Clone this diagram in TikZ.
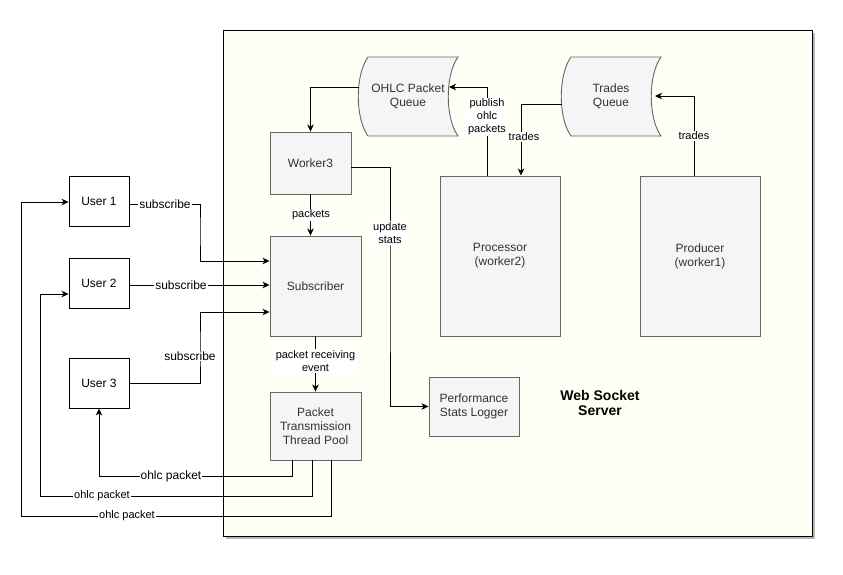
\documentclass[tikz,border=0pt]{standalone}
\usepackage{fontspec}
\setmainfont{Liberation Sans}
\usetikzlibrary{arrows.meta,calc}
\definecolor{servfill}{HTML}{FFFFF5}
\definecolor{servshadow}{HTML}{B8B8B8}
\definecolor{boxfill}{HTML}{F5F5F5}
\definecolor{boxline}{HTML}{666666}
\definecolor{boxtext}{HTML}{333333}
\begin{document}
\begin{tikzpicture}[x=1pt,y=-1pt,
  graybox/.style={draw=boxline,fill=boxfill,text=boxtext,line width=0.9pt,inner sep=0pt,align=center,font=\fontsize{12}{14}\selectfont},
  userbox/.style={draw=black,fill=white,line width=0.9pt,minimum width=60pt,minimum height=50pt,inner sep=0pt,font=\fontsize{12}{14}\selectfont},
  qtext/.style={text=boxtext,align=center,inner sep=0pt,minimum width=100pt,minimum height=79pt,font=\fontsize{12}{14}\selectfont},
  qline/.style={draw=boxline,fill=boxfill,line width=0.9pt},
  arr/.style={draw=black,line width=0.9pt,-{Stealth[length=7pt,width=6.5pt,inset=2pt]}},
  lab/.style={fill=white,inner sep=1pt,align=center,font=\fontsize{11}{13}\selectfont},
  labbig/.style={lab,font=\fontsize{12}{14}\selectfont}
]
\useasboundingbox (0,0) rectangle (843,574);
\fill[white] (0,0) rectangle (843,574);

% server frame with its shadow
\fill[servshadow] (226,33) rectangle (815,539);
\draw[fill=servfill,line width=0.9pt] (223,30) rectangle (812,536);
\node[font=\bfseries\fontsize{14}{15.5}\selectfont,align=center] (title) at (600,403) {Web Socket\\Server};

% queues (stored-data outline)
\draw[qline] (368,57) .. controls (355,75) and (355,118) .. (368,136) -- (458,136)
  .. controls (445,118) and (445,75) .. (458,57) -- cycle;
\node[qtext] (q1) at (408,96.5) {OHLC Packet\\Queue};
\draw[qline] (571,57) .. controls (558,75) and (558,118) .. (571,136) -- (661,136)
  .. controls (648,118) and (648,75) .. (661,57) -- cycle;
\node[qtext] (q2) at (611,96.5) {Trades\\Queue};
\coordinate (q1out) at (359,87);
\coordinate (q1in) at (449,87);
\coordinate (q2out) at (562,104);
\coordinate (q2in) at (655,96);

% workers and services
\node[graybox,minimum width=81pt,minimum height=62pt] (w3) at (310.5,163) {Worker3};
\node[graybox,minimum width=91pt,minimum height=100pt] (sub) at (315.5,286) {Subscriber};
\node[graybox,minimum width=91pt,minimum height=68pt] (ptp) at (315.5,426) {Packet\\Transmission\\Thread Pool};
\node[graybox,minimum width=120pt,minimum height=160pt] (proc) at (500,256) {Processor\\(worker2)};
\node[graybox,minimum width=120pt,minimum height=160pt] (prod) at (700,256) {Producer\\(worker1)};
\node[graybox,minimum width=90pt,minimum height=59pt] (perf) at (474,406.5) {Performance\\Stats Logger};

% users
\node[userbox] (u1) at (99,201) {User 1};
\node[userbox] (u2) at (99,283) {User 2};
\node[userbox] (u3) at (99,383) {User 3};

% queue traffic
\draw[arr] (q1out) -| (w3.north);
\draw[arr] ([xshift=-13pt]proc.north) |- (q1in);
\node[lab] (lpub) at (487,117) {publish\\ohlc\\packets};
\draw[arr] (q2out) -| ([xshift=21pt]proc.north);
\node[lab] (ltr1) at (524,137) {trades};
\draw[arr] ([xshift=-6pt]prod.north) |- (q2in);
\node[lab] (ltr2) at (694,136) {trades};

% internal flow
\draw[arr] (w3.south) -- (w3.south |- sub.north);
\node[lab] (lpk) at (311,215) {packets};
\coordinate (statbend) at (390,300);
\draw[arr] ([yshift=-4pt]w3.east) -| (statbend) |- (perf.west);
\node[lab] (lst) at (390,233) {update\\stats};
\draw[arr] (sub.south) -- (ptp.north);
\node[lab] (lev) at (315.5,361) {packet receiving\\event};

% subscriptions
\coordinate (s1) at (200,230);
\draw[arr] ([yshift=-3pt]u1.east) -| (s1) |- ([yshift=25pt]sub.west);
\node[labbig] (ls1) at (165,204) {subscribe};
\draw[arr] ([yshift=-2pt]u2.east) -- ([yshift=-2pt]u2.east -| sub.west);
\node[labbig] (ls2) at (181,285) {subscribe};
\coordinate (s3) at (200,350);
\draw[arr] (u3.east) -| (s3) |- ([yshift=-26pt]sub.west);
\node[labbig] (ls3) at (190,356) {subscribe};

% packets back to the users
\coordinate (r3) at (200,476);
\draw[arr] ([xshift=-23.5pt]ptp.south) |- (r3) -| (u3.south);
\node[labbig] (lr3) at (171,476) {ohlc packet};
\coordinate (r2) at (40,496);
\draw[arr] ([xshift=-3.5pt]ptp.south) |- (r2) |- ([yshift=-11pt]u2.west);
\node[lab] (lr2) at (102,496) {ohlc packet};
\coordinate (r1) at (21,516);
\draw[arr] ([xshift=15.5pt]ptp.south) |- (r1) |- ([yshift=-1pt]u1.west);
\node[lab] (lr1) at (127,516) {ohlc packet};
\end{tikzpicture}
\end{document}
